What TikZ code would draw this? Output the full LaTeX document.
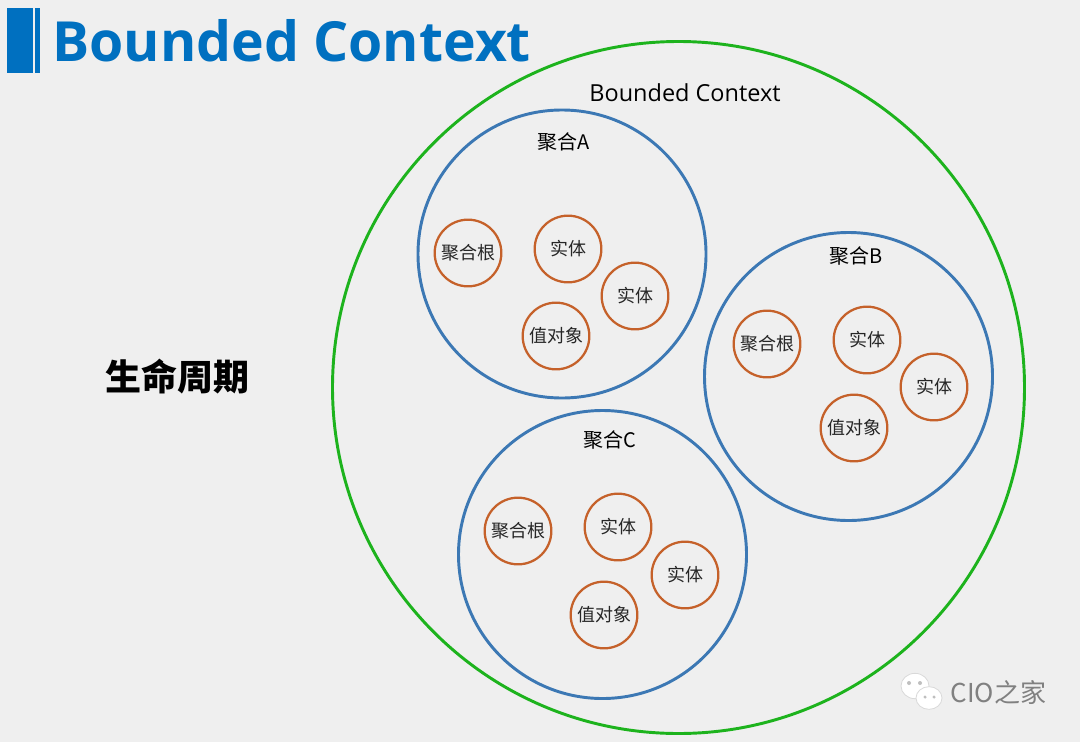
\documentclass[tikz,border=0pt]{standalone}
\usepackage{fontspec}
\usetikzlibrary{shapes.geometric}
\setmainfont{Open Sans}
\newfontfamily\cjk{Noto Sans CJK SC}
\definecolor{bg}{HTML}{EFEFEF}
\definecolor{titleblue}{HTML}{0070C0}
\definecolor{ringgreen}{HTML}{1DB31D}
\definecolor{aggblue}{HTML}{3C78B4}
\definecolor{entorange}{HTML}{C5612A}
\tikzset{
  ctx/.style={circle, draw=ringgreen, line width=2.2pt, minimum size=519pt, inner sep=0pt},
  agg/.style={circle, draw=aggblue, line width=2.2pt, minimum size=216pt, inner sep=0pt},
  ent/.style={circle, draw=entorange, line width=1.7pt, minimum size=50pt, inner sep=0pt, font=\cjk\fontsize{13.5}{15}\selectfont, text=black!85},
  agglabel/.style={font=\cjk\fontsize{15}{17}\selectfont, text=black},
  bubble/.style={ellipse, fill=white, draw=black!15, line width=0.6pt, inner sep=0pt},
}
\begin{document}
\begin{tikzpicture}[x=0.75pt,y=-0.75pt]
\fill[bg] (0,0) rectangle (1080,742);
\useasboundingbox (0,0) rectangle (1080,742);
% title
\fill[titleblue] (7,8) rectangle (33,73);
\fill[titleblue] (35,8) rectangle (40,73);
\node[anchor=base west, inner sep=0pt, text=titleblue, font=\bfseries\fontsize{41.5}{46}\selectfont] (title) at (52,62) {Bounded Context};
% life cycle
\node[font=\cjk\bfseries\fontsize{27}{30}\selectfont] (life) at (177,377) {生命周期};
% big context
\node[ctx] (bc) at (678.5,387.5) {};
\node[font=\fontsize{17.6}{19}\selectfont, text=black] (bclabel) at (685,93) {Bounded Context};
% aggregate A
\node[agg] (aggA) at (562,254) {};
\node[agglabel] (labA) at (564,142) {聚合A};
\node[ent] (A1) at (468,253) {聚合根};
\node[ent] (A2) at (568,249) {实体};
\node[ent] (A3) at (635,296) {实体};
\node[ent] (A4) at (556,336) {值对象};
% aggregate B
\node[agg] (aggB) at (848.5,376.5) {};
\node[agglabel] (labB) at (856,256) {聚合B};
\node[ent] (B1) at (767,344) {聚合根};
\node[ent] (B2) at (867,340) {实体};
\node[ent] (B3) at (934,387) {实体};
\node[ent] (B4) at (854,428) {值对象};
% aggregate C
\node[agg] (aggC) at (602.5,554.5) {};
\node[agglabel] (labC) at (610,440) {聚合C};
\node[ent] (C1) at (518,531) {聚合根};
\node[ent] (C2) at (618,527) {实体};
\node[ent] (C3) at (685,575) {实体};
\node[ent] (C4) at (604,615) {值对象};
% watermark
\node[bubble, minimum width=21pt, minimum height=19pt] (wc1) at (915,686) {};
\node[bubble, minimum width=19.5pt, minimum height=17pt] (wc2) at (929,698) {};
\fill[black!25] (909,683) circle (1.5pt) (920,683) circle (1.5pt) (925,697) circle (1.3pt) (934,697) circle (1.3pt);
\node[anchor=west, text=black!50, font=\cjk\fontsize{19.5}{21}\selectfont] (wm) at (946,692) {CIO之家};
\end{tikzpicture}
\end{document}
